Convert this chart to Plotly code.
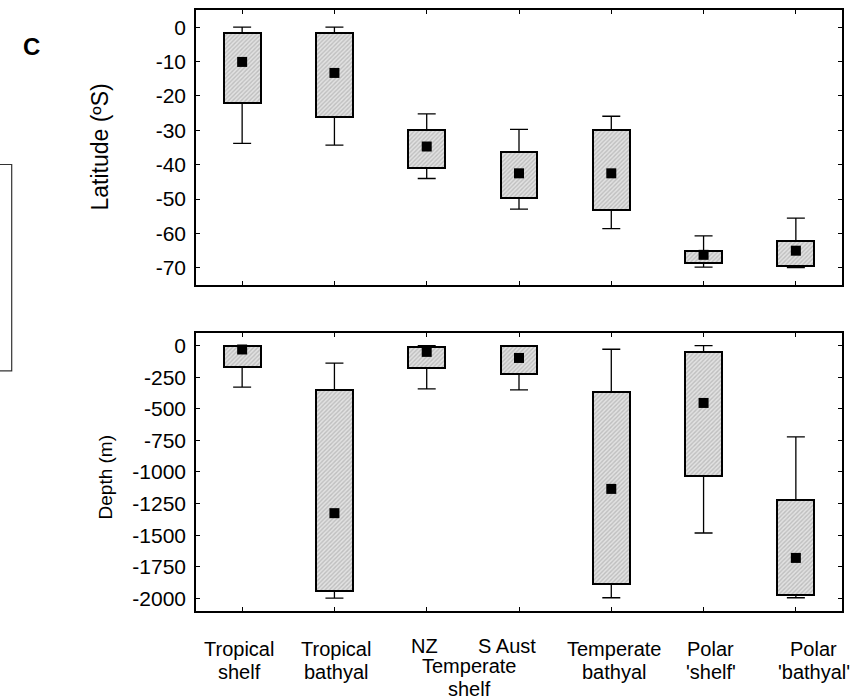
import plotly.graph_objects as go

# ---------------- data ----------------
categories = ["Tropical shelf", "Tropical bathyal", "NZ", "S Aust",
              "Temperate bathyal", "Polar 'shelf'", "Polar 'bathyal'"]
label_line1 = ["Tropical", "Tropical", "NZ", "S Aust", "Temperate", "Polar", "Polar"]
label_line2 = ["shelf", "bathyal", "", "", "bathyal", "'shelf'", "'bathyal'"]
group_label = ["Temperate", "shelf"]

# Latitude (ºS)
lat_min = [-33.8, -34.3, -44.0, -52.9, -58.6, -69.8, -69.9]
lat_q1 = [-22.0, -26.0, -41.0, -49.8, -53.2, -68.5, -69.5]
lat_med = [-10.1, -13.3, -34.7, -42.5, -42.5, -66.2, -65.0]
lat_q3 = [-1.6, -1.6, -30.0, -36.2, -30.0, -65.0, -62.1]
lat_max = [0.0, 0.0, -25.2, -29.7, -25.9, -60.7, -55.5]

# Depth (m)
dep_min = [-328, -1998, -342, -350, -1995, -1483, -1995]
dep_q1 = [-171, -1940, -179, -224, -1887, -1035, -1974]
dep_med = [-31, -1326, -50, -98, -1134, -454, -1680]
dep_q3 = [-5, -352, -8, -5, -365, -50, -1224]
dep_max = [0, -139, 0, 0, -29, 0, -722]

lat_ticks = [0, -10, -20, -30, -40, -50, -60, -70]
dep_ticks = [0, -250, -500, -750, -1000, -1250, -1500, -1750, -2000]

# ---------------- layout geometry ----------------
W, H = 859, 699
L, R, T, B = 196, 17, 8, 88
PW, PH = W - L - R, H - T - B


def px(x):
    return (x - L) / PW


def py(y):
    return (H - B - y) / PH


FONT = "Arial, Liberation Sans, sans-serif"
idx = list(range(len(categories)))

fig = go.Figure()


def add_panel(q1, q3, med, lo, hi, xa, ya):
    fig.add_trace(go.Bar(
        x=idx, base=q1, y=[a - b for a, b in zip(q3, q1)], width=0.4,
        marker=dict(color="#dcdcdc",
                    line=dict(color="black", width=2),
                    pattern=dict(shape="/", fgcolor="#9a9a9a", bgcolor="#e2e2e2",
                                 size=3, solidity=0.45)),
        xaxis=xa, yaxis=ya, showlegend=False, hoverinfo="skip"))
    # upper whisker
    fig.add_trace(go.Scatter(
        x=idx, y=q3, mode="markers",
        marker=dict(size=1, color="rgba(0,0,0,0)"),
        error_y=dict(type="data", symmetric=False,
                     array=[h - q for h, q in zip(hi, q3)],
                     arrayminus=[0] * len(idx), width=9, thickness=1.3, color="black"),
        xaxis=xa, yaxis=ya, showlegend=False, hoverinfo="skip"))
    # lower whisker
    fig.add_trace(go.Scatter(
        x=idx, y=q1, mode="markers",
        marker=dict(size=1, color="rgba(0,0,0,0)"),
        error_y=dict(type="data", symmetric=False,
                     array=[0] * len(idx),
                     arrayminus=[q - l for q, l in zip(q1, lo)], width=9, thickness=1.3, color="black"),
        xaxis=xa, yaxis=ya, showlegend=False, hoverinfo="skip"))
    # median
    fig.add_trace(go.Scatter(
        x=idx, y=med, mode="markers",
        marker=dict(symbol="square", size=10, color="black"),
        xaxis=xa, yaxis=ya, showlegend=False, hoverinfo="skip"))


add_panel(lat_q1, lat_q3, lat_med, lat_min, lat_max, "x", "y")
add_panel(dep_q1, dep_q3, dep_med, dep_min, dep_max, "x2", "y2")

axis_common = dict(showline=True, linecolor="black", linewidth=1.5, mirror="ticks",
                   ticks="inside", ticklen=4, tickwidth=1, tickcolor="black",
                   showgrid=False, zeroline=False)

fig.update_layout(
    width=W, height=H,
    margin=dict(l=L, r=R, t=T, b=B),
    paper_bgcolor="white", plot_bgcolor="white",
    font=dict(family=FONT, color="black"),
    bargap=0,
    xaxis=dict(domain=[0, 1], anchor="y", range=[-0.5, 6.5], tickvals=idx,
               showticklabels=False, **axis_common),
    yaxis=dict(domain=[py(284), 1], anchor="x", range=[-75, 5], tickvals=lat_ticks,
               ticktext=[str(v) for v in lat_ticks],
               tickfont=dict(size=21, family=FONT), ticklabelstandoff=4, **axis_common),
    xaxis2=dict(domain=[0, 1], anchor="y2", range=[-0.5, 6.5], tickvals=idx,
                showticklabels=False, **axis_common),
    yaxis2=dict(domain=[0, py(332)], anchor="x2", range=[-2100, 100], tickvals=dep_ticks,
                ticktext=[str(v) for v in dep_ticks],
                tickfont=dict(size=21, family=FONT), ticklabelstandoff=4, **axis_common),
)

ann = []
C = dict(showarrow=False, xanchor="center", yanchor="middle")
# panel letter
ann.append(dict(text="<b>C</b>", x=px(31.5), y=py(45), xref="paper", yref="paper",
                font=dict(size=24, family=FONT), **C))
# axis titles
ann.append(dict(text="Latitude (ºS)", x=px(100), y=py(146), xref="paper", yref="paper",
                textangle=-90, font=dict(size=23, family=FONT), **C))
ann.append(dict(text="Depth (m)", x=px(105), y=py(477), xref="paper", yref="paper",
                textangle=-90, font=dict(size=19, family=FONT), **C))

# category labels
shifts = [-3, 2, -2, -12, 3, 7, 18]
for i, (a, b) in enumerate(zip(label_line1, label_line2)):
    y1 = 646 if b == "" else 649
    ann.append(dict(text=a, x=i, xref="x2", y=py(y1), yref="paper", xshift=shifts[i],
                    font=dict(size=20, family=FONT), **C))
    if b:
        ann.append(dict(text=b, x=i, xref="x2", y=py(672), yref="paper", xshift=shifts[i],
                        font=dict(size=20, family=FONT), **C))
ann.append(dict(text=group_label[0], x=2.5, xref="x2", y=py(666), yref="paper", xshift=-3,
                font=dict(size=20, family=FONT), **C))
ann.append(dict(text=group_label[1], x=2.5, xref="x2", y=py(689), yref="paper", xshift=-3,
                font=dict(size=20, family=FONT), **C))
fig.update_layout(annotations=ann)

# partial frame at left edge
fig.add_shape(type="rect", xref="paper", yref="paper",
              x0=px(-20), x1=px(11.7), y0=py(370), y1=py(163),
              line=dict(color="#333333", width=1.2), fillcolor="rgba(0,0,0,0)")

fig.write_html("out.html")
